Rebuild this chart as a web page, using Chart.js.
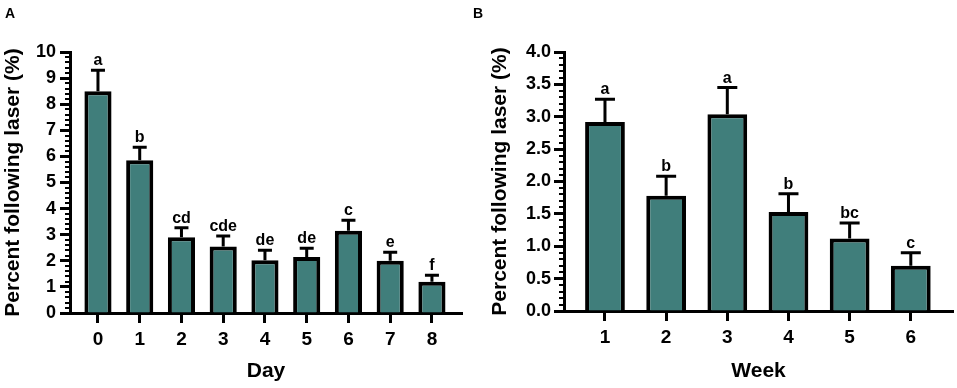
<!DOCTYPE html>
<html>
<head>
<meta charset="utf-8">
<script src="https://cdn.jsdelivr.net/npm/chart.js@4.4.0/dist/chart.umd.min.js"></script>
<style>
  html, body { margin: 0; padding: 0; background: #fff; }
  #wrap { position: relative; width: 957px; height: 388px; overflow: hidden; }
  .panel { position: absolute; top: 0; height: 388px; }
  .tag { position: absolute; font: bold 14px "Liberation Sans", Arial, sans-serif; line-height: 1; color: #000; }
</style>
</head>
<body>
<div id="wrap">
  <div class="panel" style="left:0;width:478px"><canvas id="chartA" width="478" height="388"></canvas></div>
  <div class="panel" style="left:478px;width:479px"><canvas id="chartB" width="479" height="388"></canvas></div>
  <div class="tag" style="left:5px;top:6px">A</div>
  <div class="tag" style="left:473px;top:6px">B</div>
</div>
<script>
// panel A: by day
const days = [0, 1, 2, 3, 4, 5, 6, 7, 8];
const dayMeans = [8.5, 5.85, 2.9, 2.55, 2.02, 2.15, 3.15, 2.0, 1.2];
const dayErrors = [0.8, 0.5, 0.37, 0.4, 0.38, 0.33, 0.4, 0.33, 0.25];
const dayLetters = ['a', 'b', 'cd', 'cde', 'de', 'de', 'c', 'e', 'f'];
const dayYTicks = [0, 1, 2, 3, 4, 5, 6, 7, 8, 9, 10];

// panel B: by week
const weeks = [1, 2, 3, 4, 5, 6];
const weekMeans = [2.92, 1.78, 3.04, 1.53, 1.12, 0.7];
const weekErrors = [0.35, 0.3, 0.41, 0.28, 0.24, 0.2];
const weekLetters = ['a', 'b', 'a', 'b', 'bc', 'c'];
const weekYTicks = [0, 0.5, 1.0, 1.5, 2.0, 2.5, 3.0, 3.5, 4.0];

const FONT = '"Liberation Sans", Arial, sans-serif';
const BAR_COLOR = 'rgb(64, 126, 123)';

Chart.defaults.font.family = FONT;
Chart.defaults.color = '#000';

// error bars (upper only) + significance letters
const errorBars = (means, errors, letters, cap) => ({
  id: 'errorBars',
  afterDatasetsDraw(chart) {
    const ctx = chart.ctx;
    const y = chart.scales.y;
    const meta = chart.getDatasetMeta(0);
    ctx.save();
    ctx.strokeStyle = '#000';
    ctx.lineWidth = 3;
    ctx.fillStyle = '#000';
    ctx.font = 'bold 16px ' + FONT;
    ctx.textAlign = 'center';
    ctx.textBaseline = 'alphabetic';
    meta.data.forEach((bar, i) => {
      const base = y.getPixelForValue(means[i]);
      const top = y.getPixelForValue(means[i] + errors[i]);
      ctx.beginPath();
      ctx.moveTo(bar.x, base);
      ctx.lineTo(bar.x, top);
      ctx.moveTo(bar.x - cap / 2, top);
      ctx.lineTo(bar.x + cap / 2, top);
      ctx.stroke();
      ctx.fillText(letters[i], bar.x, top - 5);
    });
    ctx.restore();
  }
});

// small ticks between the labelled ones
const minorTicks = (max, step, major) => ({
  id: 'minorTicks',
  afterDraw(chart) {
    const ctx = chart.ctx;
    const y = chart.scales.y;
    const left = chart.chartArea.left;
    ctx.save();
    ctx.strokeStyle = '#000';
    ctx.lineWidth = 2;
    const n = Math.round(max / step);
    for (let k = 1; k < n; k++) {
      const v = k * step;
      if (Math.abs(v / major - Math.round(v / major)) < 1e-6) continue;
      const py = Math.round(y.getPixelForValue(v));
      ctx.beginPath();
      ctx.moveTo(left - 5, py);
      ctx.lineTo(left, py);
      ctx.stroke();
    }
    ctx.restore();
  }
});

function makeChart(id, cfg) {
  return new Chart(document.getElementById(id), {
    type: 'bar',
    data: {
      datasets: [{
        data: cfg.xs.map((x, i) => ({ x: x, y: cfg.means[i] })),
        backgroundColor: BAR_COLOR,
        borderColor: '#000',
        borderWidth: 4,
        borderSkipped: 'start',
        barPercentage: 0.65,
        categoryPercentage: 1
      }]
    },
    options: {
      responsive: false,
      animation: false,
      layout: { padding: { top: 52, right: cfg.padRight, left: 0, bottom: 0 } },
      plugins: { legend: { display: false }, tooltip: { enabled: false } },
      scales: {
        x: {
          type: 'linear',
          offset: false,
          min: cfg.xMin,
          max: cfg.xMax,
          afterBuildTicks: (s) => { s.ticks = cfg.xs.map(v => ({ value: v })); },
          afterFit: (s) => { s.height = cfg.xHeight; },
          ticks: {
            font: { size: 19, weight: 'bold' },
            padding: 5,
            maxRotation: 0,
            callback: (v) => String(v)
          },
          grid: {
            offset: false,
            drawOnChartArea: false,
            drawTicks: true,
            tickLength: 10,
            tickWidth: 3,
            tickColor: '#000'
          },
          border: { color: '#000', width: 3 },
          title: {
            display: true,
            text: cfg.xTitle,
            font: { size: 21, weight: 'bold' },
            padding: { top: 0, bottom: 4 }
          }
        },
        y: {
          min: 0,
          max: cfg.yTicks[cfg.yTicks.length - 1],
          afterBuildTicks: (s) => { s.ticks = cfg.yTicks.map(v => ({ value: v })); },
          afterFit: (s) => { s.width = cfg.yWidth; },
          ticks: {
            font: { size: 18, weight: 'bold' },
            padding: cfg.yPad,
            callback: (v) => cfg.decimals ? Number(v).toFixed(cfg.decimals) : String(v)
          },
          grid: {
            drawOnChartArea: false,
            drawTicks: true,
            tickLength: 10,
            tickWidth: 3,
            tickColor: '#000'
          },
          border: { color: '#000', width: 3 },
          title: {
            display: true,
            text: 'Percent following laser (%)',
            font: { size: 21, weight: 'bold' },
            padding: { top: cfg.yTitlePad, bottom: 0 }
          }
        }
      }
    },
    plugins: [
      errorBars(cfg.means, cfg.errors, cfg.letters, cfg.cap),
      minorTicks(cfg.yTicks[cfg.yTicks.length - 1], cfg.minorStep, cfg.yTicks[1])
    ]
  });
}

makeChart('chartA', {
  xs: days, means: dayMeans, errors: dayErrors, letters: dayLetters,
  yTicks: dayYTicks, decimals: 0, minorStep: 0.2,
  xMin: -0.67, xMax: 8.72, xTitle: 'Day',
  xHeight: 75, yWidth: 70, yPad: 4, yTitlePad: 1, padRight: 16, cap: 14
});

makeChart('chartB', {
  xs: weeks, means: weekMeans, errors: weekErrors, letters: weekLetters,
  yTicks: weekYTicks, decimals: 1, minorStep: 0.1,
  xMin: 0.33, xMax: 6.69, xTitle: 'Week',
  xHeight: 77, yWidth: 86, yPad: 3, yTitlePad: 10, padRight: 4, cap: 20
});
</script>
</body>
</html>
